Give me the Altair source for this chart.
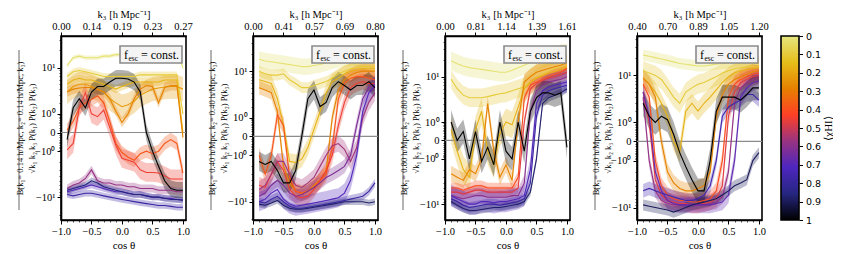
import altair as alt
import numpy as np
import pandas as pd

COS = [-0.9, -0.8, -0.7, -0.6, -0.5, -0.4, -0.3, -0.2, -0.1, 0.0,
       0.1, 0.2, 0.3, 0.4, 0.5, 0.6, 0.7, 0.8, 0.9, 1.0]

K1 = ["0.14", "0.40", "0.80", "0.40"]
K2 = ["0.14", "0.40", "0.80", "0.80"]
K3_TICKS = [["0.00", "0.14", "0.19", "0.23", "0.27"],
            ["0.00", "0.41", "0.57", "0.69", "0.80"],
            ["0.00", "0.81", "1.14", "1.39", "1.61"],
            ["0.40", "0.70", "0.89", "1.05", "1.20"]]
Y_DOMAINS = [[-24.7, 34.9], [-20.5, 39.0], [-19.0, 50.0], [-16.3, 45.0]]
X_MAJOR = [-1, -0.5, 0, 0.5, 1]
X_MINOR = [-0.9, -0.8, -0.7, -0.6, -0.4, -0.3, -0.2, -0.1, 0.1, 0.2, 0.3, 0.4,
           0.6, 0.7, 0.8, 0.9]
Y_MAJOR = [-10, -1, 0, 1, 10]
Y_MINOR = [0.1, 0.2, 0.3, 0.4, 0.5, 0.6, 0.7, 0.8, 0.9, 2, 3, 4, 5, 6, 7, 8, 9,
           20, 30, 40, 50]
CB_TICKS = [0, 0.1, 0.2, 0.3, 0.4, 0.5, 0.6, 0.7, 0.8, 0.9, 1]

# ---- panel 1 : k1 = k2 = 0.14 ----
P1_CHI = [0.02, 0.10, 0.17, 0.22, 0.28, 0.38, 0.45, 0.58, 0.70, 0.78, 0.86, 1.00]
P1_BAND = [0.08, 0.12, 0.15, 0.45, 0.18, 0.25, 0.35, 0.15, 0.12, 0.12, 0.12, 0.30]
P1_VALUES = [
    [11, 15, 16, 15, 15, 15, 16, 16, 17, 17, 17, 18, 19, 20, 21, 22, 22, 21, 20, 10],
    [7, 8.5, 9, 8.5, 8, 7.5, 7, 7, 7, 7, 7, 7, 7.5, 7.5, 7.5, 7.5, 7.5, 7.5, 7.5, 1.0],
    [5, 6, 6.5, 6, 6, 5.5, 5, 4.5, 4, 4.5, 5, 5.5, 5.5, 5.5, 5.5, 5.5, 6, 6, 6, 0],
    [3.5, 4.5, 5, 5, 4.5, 4, 3.5, 2.5, 2, 1.6, 1.8, 2.2, 3, 3.5, 4, 4.2, 4.4, 4.5, 4.5, 4],
    [3.5, 4, 4.2, 4.3, 4.3, 4, 3.5, 2.5, 1.2, 0.45, 1, 2.5, 4, 4.7, 4.5, 2, 4.3, 4.7, 4.7, -0.2],
    [0.1, 0.5, 1.5, 2, 2.4, 2.9, 2, 0.5, -0.5, -1.1, -1.5, -1.8, -1.2, -1, -1.2, -1, -0.5, -0.3, -0.5, -3.5],
    [-0.9, -0.5, 1.5, 3.4, 1, 0.8, 1.3, 0.2, -0.6, -1.6, -1.8, -2, -3, -3.4, -3.4, -3.5, -4, -4.6, -4.6, -4.6],
    [-7, -6, -5.5, -4.5, -3, -5, -5.5, -5.5, -6, -6, -6.5, -6.5, -7, -7, -7, -7.5, -7.5, -7.5, -8, -8],
    [-8, -7.5, -7, -6.5, -6, -6.5, -7, -7.5, -8, -8, -8.5, -9, -9, -9.5, -10, -10, -10.5, -10.5, -11, -11],
    [-9, -9.5, -9, -8.5, -8.5, -9, -9.5, -10, -10.5, -11, -11.5, -12, -12.5, -13, -13.5, -14, -14, -14.5, -15, -15],
    [-7.5, -7, -6.5, -6, -5, -5.5, -6.5, -7, -7.5, -8, -8.5, -9, -9, -9.5, -10, -10, -10.5, -11, -11, -11.5],
    [-0.3, 1.5, 2.5, 1.5, 3.5, 4.5, 4.5, 5.5, 6.5, 6.5, 6.3, 5.5, 3.5, 0, -1, -2.5, -5, -7, -7.5, -7.5],
]

# ---- panel 2 : k1 = k2 = 0.40 ----
P2_CHI = [0.02, 0.10, 0.17, 0.28, 0.38, 0.45, 0.56, 0.62, 0.70, 0.78, 0.88, 1.00]
P2_BAND = [0.30, 0.20, 0.30, 0.25, 0.30, 0.30, 0.30, 0.25, 0.35, 0.15, 0.12, 0.35]
P2_VALUES = [
    [16, 15, 14.5, 14, 13.5, 13, 12.5, 12, 12, 12.5, 13, 14, 15, 16, 16.5, 17, 17, 17.5, 18, 18],
    [10, 9, 8.5, 8.5, 9, 7, 6, 5, 5, 5.5, 6, 6.5, 7.5, 9, 10, 11, 11.5, 12, 12, 12],
    [7, 6.5, 6, 3, 0.5, -1.5, -1.6, -1.3, -0.5, 0.3, 1.5, 4, 6.5, 7.5, 9, 10, 10.5, 11, 11, 11],
    [5, 4.5, 4, 1.5, -2, -4.5, -6.5, -7, -6.5, -5, -4, -2.5, 1, 4.5, 7, 8.5, 9.5, 10, 10, 10],
    [-1, -3, -1, 1.2, 0.5, -3.5, -6.5, -7, -6.5, -5.5, -4, -3, -0.5, 3, 6, 7.5, 8, 8, 7.5, 7],
    [-5, -5.5, -3, -1.5, -2.5, -6, -8, -8.5, -8, -6, -4, -2.5, -1, 0.5, 2.5, 5, 6, 6.5, 6, 6],
    [-6, -5, -3, -1.5, -1.5, -3, -5, -5.5, -4.5, -3.5, -2, -1, -0.4, -0.3, -0.6, -1.5, -0.5, 1, 2.5, 4],
    [-8, -7, -5, -4, -5, -7, -8, -7.5, -6.5, -5.5, -4.5, -3.5, -3, -2.5, -2, -1, 0.5, 3, 5, 6],
    [-10, -9, -7, -6, -9, -11, -12, -11.5, -11, -10.5, -10, -9.5, -9, -8.5, -7, -4, -1, 1.5, 4, 5.5],
    [-10, -10.5, -9, -8, -10, -12, -13, -13, -12.5, -12, -11.5, -11, -10.5, -10, -9.5, -9, -8.5, -8, -6.5, -4.5],
    [-11, -11.5, -10.5, -9.5, -11.5, -13, -13.5, -13.5, -13, -12.5, -12, -11.5, -11, -10.5, -10, -10, -10, -10, -10.5, -10],
    [-1.5, -1.8, -1.5, -2.5, -4.5, -4.5, -2.5, 0, 3, 4.5, 2, 2.5, 5, 6.5, 5.5, 4.5, 5.5, 5.5, 6.5, 5],
]

# ---- panel 3 : k1 = k2 = 0.80 ----
P3_CHI = [0.02, 0.10, 0.17, 0.28, 0.40, 0.47, 0.60, 0.70, 0.78, 0.88, 1.00]
P3_BAND = [0.35, 0.35, 0.50, 0.30, 0.20, 0.20, 0.30, 0.40, 0.20, 0.15, 0.45]
P3_VALUES = [
    [19, 17, 15.5, 14.5, 14, 13.5, 13, 12.5, 12, 12, 13, 14.5, 16, 18, 19.5, 21, 22.5, 24, 25, 26],
    [9, 6, 4.5, 4, 4, 4, 4.2, 4.5, 4.8, 5, 5.5, 6, 6.5, 8, 9.5, 11, 12.5, 14, 15, 16],
    [0.5, -0.5, -2, -3, 0.5, 2, -0.5, -1.5, 0.3, 1, 0.8, 2.5, 6, 8, 9.5, 10.5, 11.5, 12.5, 13.5, 15],
    [-2.5, -3, -3.5, -2, -2.5, -1, 3, -0.5, -3, -1.5, -3.5, 1, 8, 10, 12, 13, 14, 15, 16, 18],
    [-5, -5, -5.5, -5, -4.5, -4.5, -5, -5, -5, -5, -5, -3, 4, 7, 8, 9, 10, 11, 12, 14],
    [-6, -6, -6.5, -6, -5.5, -5.5, -6, -6, -6, -6, -6, -5, 1, 6, 7.5, 8.5, 9.5, 10, 11, 12],
    [-7, -7.5, -8, -7.5, -7, -7, -7.5, -7.5, -7.5, -7.5, -7, -7, -4, 2, 5.5, 7, 8, 8.5, 9, 10],
    [-7, -8, -9, -10, -10, -9, -9, -9.5, -9, -9, -8.5, -8, -7, -2, 3, 5.5, 6.5, 7, 7.5, 8],
    [-8, -9, -10.5, -11.5, -11, -10.5, -10, -10, -10.5, -10, -9.5, -9, -8, -4, 1.5, 4.5, 5.5, 6, 6.5, 7],
    [-9, -10.5, -12, -13, -13, -12.5, -12, -11.5, -11.5, -11, -10.5, -10, -9, -6, -1, 3, 4, 4.5, 5, 6],
    [1, 0, 0.4, -1, 0.4, -1.2, -0.3, -1.5, 1, -0.5, -1, 1, -0.5, 2, 4, 5, 5, 4.5, 5, -0.3],
]

# ---- panel 4 : k1 = 0.40, k2 = 0.80 ----
P4_CHI = [0.02, 0.10, 0.17, 0.28, 0.40, 0.47, 0.58, 0.68, 0.76, 0.90, 1.00]
P4_BAND = [0.20, 0.35, 0.35, 0.30, 0.30, 0.30, 0.25, 0.30, 0.25, 0.20, 0.45]
P4_VALUES = [
    [22, 21, 20, 19, 18, 17, 16, 15.5, 15, 14.5, 14.5, 15, 15.5, 16, 16.5, 17, 17, 16.5, 16, 15],
    [12, 11, 10, 8.5, 6, 4, 3, 5, 6, 7, 7.5, 8.5, 9.5, 11, 12, 13, 13.5, 14, 14, 14],
    [9, 7, 5, 3, 1.5, 0, -0.5, 2, 3, 2, 3, 4, 5.5, 7.5, 9.5, 11, 12, 12.5, 13, 13.5],
    [9, 7, 4, 0, -2, -3.5, -4.5, -5, -5, -4.5, -4, -2, 1.5, 4.5, 7, 8.5, 9.5, 10.5, 11.5, 12],
    [7, 4, -1, -4, -6, -7, -7.5, -7.5, -8, -8, -7.5, -7, -5, -1, 4, 7, 8.5, 9.5, 10.5, 11],
    [5, 1, -3, -6, -7.5, -8, -8.5, -8.5, -9, -9, -8.5, -8, -7, -4, 1.5, 5, 7.5, 8.5, 9.5, 10],
    [4, -1, -5, -7.5, -8.5, -9, -9, -9, -9, -9, -9, -8.5, -8, -6.5, -2, 3, 6, 7.5, 8.5, 9.5],
    [5, 1.5, -2, -5, -7.5, -8.5, -9, -9, -9, -9, -9, -9, -8.5, -8, -6, -1, 4, 6, 7.5, 8],
    [-5, -4.5, -5, -5.5, -6, -6.5, -7, -7.5, -7.5, -7, -6, -4, -1, 1.5, 2.5, 3, 3.5, 4.5, 4.5, 3.5],
    [-9, -9.5, -10, -10.5, -11, -12, -11, -10, -9, -8.5, -8, -7.5, -7, -6, -5, -4, -3.5, -3, -1, -0.5],
    [3, 1.5, 1, 1.5, 1.2, 0.3, -0.5, -1.5, -3, -5, -5, -1, 2, 4, 4, 4, 3.5, 4.5, 6, 6],
]

PANELS = [(P1_CHI, P1_BAND, P1_VALUES), (P2_CHI, P2_BAND, P2_VALUES),
          (P3_CHI, P3_BAND, P3_VALUES), (P4_CHI, P4_BAND, P4_VALUES)]

CMAP_STOPS = [0.0, 0.143, 0.286, 0.429, 0.571, 0.714, 0.857, 1.0]
CMAP_COLORS = ["#e6e680", "#e6bf1a", "#e68000", "#ff4026",
               "#993380", "#4d26bf", "#262680", "#000000"]
ZERO = [0]


def symlog(v):
    v = np.asarray(v, dtype=float)
    return np.sign(v) * np.log1p(np.abs(v))


def inv_symlog(u):
    return np.sign(u) * np.expm1(np.abs(u))


rows = []
for p, (chis, bands, vals) in enumerate(PANELS):
    for j, (chi, b, v) in enumerate(zip(chis, bands, vals)):
        u = symlog(v)
        lo = inv_symlog(u - b)
        hi = inv_symlog(u + b)
        for k, c in enumerate(COS):
            rows.append({"panel": p, "line": f"L{j:02d}", "chi": chi, "cos": c,
                         "val": v[k], "lo": float(lo[k]), "hi": float(hi[k])})
DATA = pd.DataFrame(rows)

W, H = 125, 184
SPACING = 67
SERIF = "Liberation Serif"
TITLE_X = -42
CB_GAP, CB_W = 19, 18

cscale = alt.Scale(domain=CMAP_STOPS, range=CMAP_COLORS, interpolate="rgb")

YLAB = ("datum.value > 5 ? '10¹' : datum.value > 0.5 ? '10⁰' : "
        "datum.value > -0.5 ? '0' : datum.value > -5 ? '−10⁰' : '−10¹'")


def top_expr(labels):
    return (f"datum.value < -0.75 ? '{labels[0]}' : datum.value < -0.25 ? '{labels[1]}' : "
            f"datum.value < 0.25 ? '{labels[2]}' : datum.value < 0.75 ? '{labels[3]}' : '{labels[4]}'")


def panel(i):
    df = DATA[DATA.panel == i]
    lo_d, hi_d = Y_DOMAINS[i]
    yminor = [m for m in Y_MINOR if m < hi_d] + [-m for m in Y_MINOR if -m > lo_d]
    xsc = alt.Scale(domain=[-1, 1.05], nice=False, zero=False)
    ysc = alt.Scale(type="symlog", constant=1, domain=Y_DOMAINS[i], nice=False, zero=False)
    yaxis = alt.Axis(
        orient="left", values=Y_MAJOR, labelExpr=YLAB, labelFlush=False, labelOverlap=False,
        title=[f"B(k₁= {K1[i]} h/Mpc,  k₂= {K2[i]} h/Mpc,  k₃)",
               "√k₁ k₂ k₃ P(k₁) P(k₂) P(k₃)"],
        titleFontSize=8.5, titleLineHeight=12.5, titleX=TITLE_X, titleY=H / 2,
        titleAngle=270, titleAlign="center", titleBaseline="middle")
    yaxis_minor = alt.Axis(orient="left", values=yminor, labels=False, domain=False,
                           tickSize=2, tickWidth=0.7, title=None, grid=False)
    bottom = alt.Axis(orient="bottom", values=X_MAJOR, format=".1f",
                      labelFlush=False, labelOverlap=False, title="cos  θ", titlePadding=3)
    bottom_minor = alt.Axis(orient="bottom", values=X_MINOR, labels=False, domain=False,
                            tickSize=2, tickWidth=0.7, title=None)
    top = alt.Axis(orient="top", values=X_MAJOR, labelExpr=top_expr(K3_TICKS[i]),
                   labelFlush=False, labelOverlap=False, labelPadding=1,
                   title="k₃     [h Mpc⁻¹]", titleFontSize=10.5,
                   titleY=-21.5, titleBaseline="middle")
    color = alt.Color("chi:Q", scale=cscale, legend=None)
    base = alt.Chart(df)
    area = base.mark_area(opacity=0.3, clip=True).encode(
        x=alt.X("cos:Q", scale=xsc, axis=bottom),
        y=alt.Y("lo:Q", scale=ysc, axis=yaxis),
        y2="hi:Q", color=color, detail="line:N")
    zero = alt.Chart(pd.DataFrame({"zero": ZERO})).mark_rule(
        color="#8c8c8c", strokeWidth=1.2).encode(y=alt.Y("zero:Q", scale=ysc, axis=None))
    lines = base.mark_line(strokeWidth=1.1, clip=True).encode(
        x=alt.X("cos:Q", scale=xsc, axis=top),
        y=alt.Y("val:Q", scale=ysc, axis=None),
        color=color, detail="line:N")
    yticks = alt.Chart(pd.DataFrame({"m": yminor})).mark_point(opacity=0).encode(
        y=alt.Y("m:Q", scale=ysc, axis=yaxis_minor))
    xticks = alt.Chart(pd.DataFrame({"c": X_MINOR})).mark_point(opacity=0).encode(
        x=alt.X("c:Q", scale=xsc, axis=bottom_minor))
    one = alt.Chart(pd.DataFrame({"a": [0]}))
    box = one.mark_rect(fill="#f4f4f4", stroke="#8a8a8a", strokeWidth=1.6).encode(
        x=alt.value(W - 66), x2=alt.value(W - 4), y=alt.value(10), y2=alt.value(27))
    t_f = one.mark_text(font=SERIF, fontSize=12, align="left", baseline="alphabetic").encode(
        x=alt.value(W - 62), y=alt.value(23), text=alt.value("f"))
    t_esc = one.mark_text(font=SERIF, fontSize=7.5, align="left", baseline="alphabetic").encode(
        x=alt.value(W - 57.5), y=alt.value(25), text=alt.value("esc"))
    t_c = one.mark_text(font=SERIF, fontSize=12, align="left", baseline="alphabetic").encode(
        x=alt.value(W - 45), y=alt.value(23), text=alt.value("= const."))
    bar = one.mark_rule(color="black", strokeWidth=0.6).encode(
        x=alt.value(TITLE_X), y=alt.value(14), y2=alt.value(174))
    layers = [area, zero, lines, yticks, xticks, box, t_f, t_esc, t_c, bar]
    if i == 0:
        pin = one.mark_point(opacity=0, size=1).encode(x=alt.value(-51), y=alt.value(-26))
        layers.append(pin)
    return alt.layer(*layers).resolve_axis(x="independent", y="independent").properties(
        width=W, height=H)


# colour bar: its own 1-px-wide view placed after the panels; the bar and its axis
# are drawn back toward panel 4 so that the gap matches the reference
CB_SHIFT = SPACING - CB_GAP
gradient = alt.Gradient(
    gradient="linear", x1=0, x2=0, y1=0, y2=1,
    stops=[alt.GradientStop(color=c, offset=o) for o, c in zip(CMAP_STOPS, CMAP_COLORS)])
cb_axis = alt.Axis(orient="right", offset=-(CB_SHIFT - CB_W + 1), values=CB_TICKS, format="~g",
                   labelFont="DejaVu Sans", labelFontSize=9.5,
                   labelFlush=False, labelOverlap=False, labelPadding=3,
                   tickSize=3.5, domain=False, title="⟨χHI⟩",
                   titleFontSize=11, titleAngle=270, titleX=29, titleY=H / 2,
                   titleAlign="center", titleBaseline="middle")
colorbar = alt.Chart(pd.DataFrame({"a": [0]})).mark_rect(
    fill=gradient, stroke="black", strokeWidth=1.6).encode(
    y=alt.YDatum(0, scale=alt.Scale(domain=[0, 1], reverse=True, nice=False, zero=False),
                 axis=cb_axis),
    y2=alt.Y2Datum(1),
    x=alt.value(-CB_SHIFT), x2=alt.value(-CB_SHIFT + CB_W)).properties(
    width=1, height=H, view=alt.ViewBackground(strokeOpacity=0))

chart = alt.hconcat(*[panel(i) for i in range(4)], colorbar, spacing=SPACING,
                    bounds="flush").properties(
    padding={"left": 0, "top": 0, "right": 0, "bottom": 0}
).configure_view(stroke="black", strokeWidth=1.6).configure_axis(
    labelFont=SERIF, titleFont=SERIF, labelFontSize=10.5, titleFontSize=11,
    titleFontWeight="normal", labelColor="black", titleColor="black",
    domainColor="black", domainWidth=1.6, tickColor="black", tickWidth=1,
    tickSize=4, labelPadding=2, grid=False)

chart.save("out.html", embed_options={"renderer": "svg", "actions": False})
